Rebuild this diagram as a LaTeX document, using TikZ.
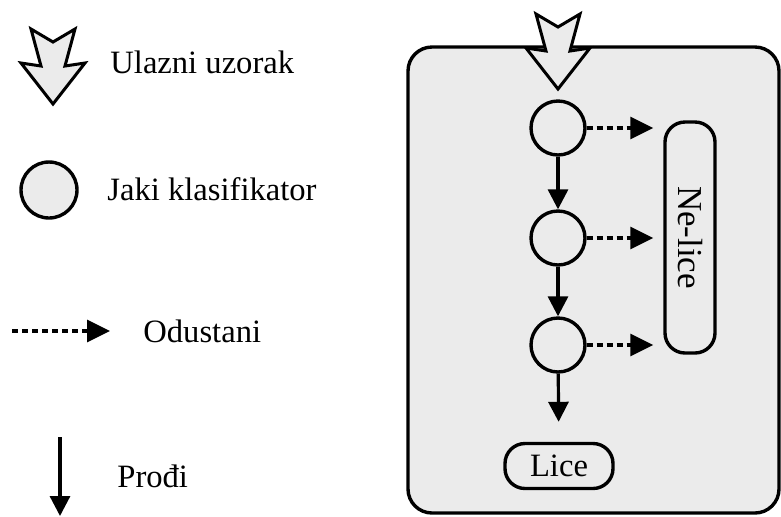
\documentclass[tikz,border=0pt]{standalone}
\usepackage{fontspec}
\setmainfont{Liberation Serif}
\usetikzlibrary{arrows.meta}

\definecolor{siva}{HTML}{EBEBEB}

\tikzset{
  klasif/.style={circle, draw, fill=siva, line width=1.7pt, minimum size=27pt, inner sep=0pt},
  odluka/.style={draw, rounded corners=10pt, line width=1.7pt, inner sep=0pt, font=\fontsize{16.3}{19}\selectfont},
  prolaz/.style={line width=1.6pt, -{Triangle[length=10pt,width=10pt]}},
  odustajanje/.style={line width=1.6pt, dash pattern=on 3pt off 2pt, -{Triangle[length=11.5pt,width=11pt]}},
  oznaka/.style={anchor=base west, inner sep=0pt, font=\fontsize{16.3}{19}\selectfont},
  uzorak/.pic={
    \draw[line width=1.5pt, fill=siva, line join=miter]
      (0,0) -- (22,-13) -- (12,24) -- (32,21) -- (0,62)
      -- (-32,21) -- (-12,24) -- (-22,-13) -- cycle;
  }
}

\begin{document}
\begin{tikzpicture}[x=0.5pt, y=-0.5pt]
    \useasboundingbox (0,0) rectangle (781,516);
    % Legend
    \pic at (53,42) {uzorak};
    \node[oznaka] (tUlaz) at (110,73) {Ulazni uzorak};
    \node[klasif, minimum size=28pt] (lKlasif) at (49,190) {};
    \node[oznaka] (tKlasif) at (107,200) {Jaki klasifikator};
    \coordinate (lOdA) at (12,331);
    \coordinate (lOdB) at (110,331);
    \draw[odustajanje] (lOdA) -- (lOdB);
    \node[oznaka] (tOdust) at (143,342) {Odustani};
    \coordinate (lPrA) at (60,437);
    \coordinate (lPrB) at (60,516);
    \draw[prolaz] (lPrA) -- (lPrB);
    \node[oznaka] (tProdi) at (117,487) {Prođi};
    % Cascade
    \draw[line width=1.7pt, fill=siva, rounded corners=12pt] (408,47) rectangle (779,513);
    \pic at (558,27) {uzorak};
    \node[klasif] (k1) at (558,128) {};
    \node[klasif] (k2) at (558,238) {};
    \node[klasif] (k3) at (558,345) {};
    \node[odluka, rotate=-90, minimum width=115.5pt, minimum height=25pt,
          font=\fontsize{17.5}{20}\selectfont] (nelice) at (690,237.5) {Ne-lice};
    \node[odluka, minimum width=54pt, minimum height=22.5pt] (lice) at (559,466) {Lice};
    \draw[prolaz] (k1) -- (k2);
    \draw[prolaz] (k2) -- (k3);
    \draw[prolaz, shorten >=10pt] (k3) -- (lice);
    \draw[odustajanje, shorten >=5pt] (k1.east) -- (k1.east -| nelice.south);
    \draw[odustajanje, shorten >=5pt] (k2.east) -- (k2.east -| nelice.south);
    \draw[odustajanje, shorten >=5pt] (k3.east) -- (k3.east -| nelice.south);
\end{tikzpicture}
\end{document}
